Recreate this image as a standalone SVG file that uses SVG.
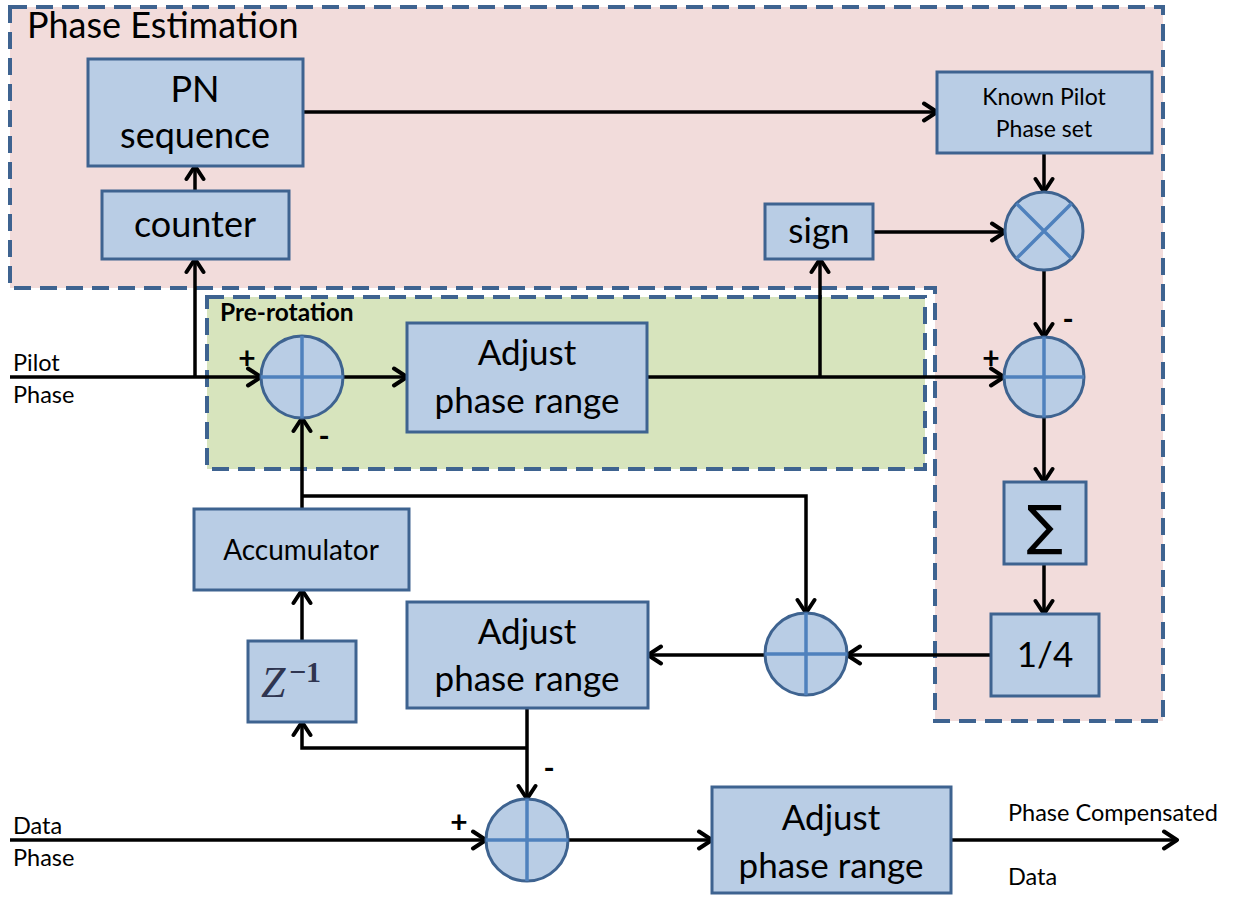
<svg xmlns="http://www.w3.org/2000/svg" width="1239" height="897" viewBox="0 0 1239 897">
  <defs>
    <marker id="arrow" viewBox="0 0 18 22" refX="16" refY="11" markerWidth="18" markerHeight="22" markerUnits="userSpaceOnUse" orient="auto">
      <path d="M3,2.5 L16,11 L3,19.5" fill="none" stroke="#000" stroke-width="4" stroke-linecap="round" stroke-linejoin="round"/>
    </marker>
    <style>
      .region { stroke: #3e6390; stroke-width: 4; stroke-dasharray: 17 9; }
      .box { fill: #b9cde5; stroke: #3e6390; stroke-width: 3; }
      .op { fill: #b9cde5; stroke: #3e6390; stroke-width: 3; }
      .cross { stroke: #4f81bd; stroke-width: 3.5; fill: none; }
      .wire { fill: none; stroke: #000; stroke-width: 3.5; }
      .arr { marker-end: url(#arrow); }
      text { font-family: Lato, "Open Sans", "Liberation Sans", sans-serif; fill: #000; }
      .big { font-size: 35px; text-anchor: middle; }
      .mid { font-size: 28px; text-anchor: middle; }
      .small { font-size: 23px; text-anchor: middle; }
      .lbl { font-size: 23.5px; }
      .sgn { font-size: 30px; font-weight: bold; text-anchor: middle; }
    </style>
  </defs>

  <rect width="1239" height="897" fill="#fff"/>

  <!-- Regions -->
  <g id="phase-estimation">
    <path class="region" d="M10,7 H1163 V721 H935 V288 H10 Z" fill="#f2dcdb"/>
    <text x="27" y="38" style="font-size:36px">Phase Estimation</text>
  </g>
  <g id="pre-rotation">
    <rect class="region" x="207" y="297" width="718" height="172" fill="#d7e4bd"/>
    <text x="220" y="321" style="font-size:24.5px;font-weight:bold">Pre-rotation</text>
  </g>

  <!-- Connectors -->
  <g id="connectors">
    <path class="wire arr" d="M303,112 H937"/>
    <path class="wire arr" d="M195,191 V166"/>
    <path class="wire arr" d="M195,377 V259"/>
    <path class="wire arr" d="M10,377 H261"/>
    <path class="wire arr" d="M343,377 H407"/>
    <path class="wire arr" d="M647,377 H1004"/>
    <path class="wire arr" d="M820,377 V259"/>
    <path class="wire arr" d="M873,232 H1005"/>
    <path class="wire arr" d="M1044,153 V192"/>
    <path class="wire arr" d="M1044,270 V337"/>
    <path class="wire arr" d="M1044,417 V482"/>
    <path class="wire arr" d="M1044,564 V614"/>
    <path class="wire arr" d="M991,655 H847"/>
    <path class="wire arr" d="M765,655 H648"/>
    <path class="wire arr" d="M302,509 V418"/>
    <path class="wire arr" d="M302,496 H806 V613"/>
    <path class="wire arr" d="M527,708 V799"/>
    <path class="wire arr" d="M527,748 H302 V722"/>
    <path class="wire arr" d="M302,641 V590"/>
    <path class="wire arr" d="M10,840 H486"/>
    <path class="wire arr" d="M568,840 H712"/>
    <path class="wire arr" d="M951,840 H1177"/>
  </g>

  <!-- Port labels -->
  <g id="io-labels">
    <text class="lbl" x="13" y="371">Pilot</text>
    <text class="lbl" x="13" y="403">Phase</text>
    <text class="lbl" x="13" y="834">Data</text>
    <text class="lbl" x="13" y="866">Phase</text>
    <text class="lbl" x="1008" y="821">Phase Compensated</text>
    <text class="lbl" x="1008" y="885">Data</text>
  </g>

  <!-- Blocks -->
  <g id="pn-sequence">
    <rect class="box" x="88" y="59" width="215" height="107"/>
    <text class="big" x="195" y="102" style="font-size:36px">PN</text>
    <text class="big" x="195" y="148" style="font-size:36px">sequence</text>
  </g>
  <g id="counter">
    <rect class="box" x="102" y="191" width="187" height="68"/>
    <text class="big" x="195" y="237" style="font-size:36px">counter</text>
  </g>
  <g id="known-pilot">
    <rect class="box" x="937" y="72" width="215" height="81"/>
    <text class="small" x="1044" y="105">Known Pilot</text>
    <text class="small" x="1044" y="137">Phase set</text>
  </g>
  <g id="sign">
    <rect class="box" x="765" y="204" width="108" height="55"/>
    <text class="big" x="819" y="243">sign</text>
  </g>
  <g id="multiplier">
    <circle class="op" cx="1044" cy="231" r="39"/>
    <path class="cross" d="M1016.4,203.4 L1071.6,258.6 M1071.6,203.4 L1016.4,258.6"/>
  </g>
  <g id="adder-pre">
    <circle class="op" cx="302" cy="377" r="41"/>
    <path class="cross" d="M261,377 H343 M302,336 V418"/>
    <text class="sgn" x="247" y="369">+</text>
    <text class="sgn" x="324" y="447">-</text>
  </g>
  <g id="adjust-pre">
    <rect class="box" x="407" y="323" width="240" height="109"/>
    <text class="big" x="527" y="365">Adjust</text>
    <text class="big" x="527" y="413">phase range</text>
  </g>
  <g id="adder-err">
    <circle class="op" cx="1044" cy="377" r="40"/>
    <path class="cross" d="M1004,377 H1084 M1044,337 V417"/>
    <text class="sgn" x="991" y="369">+</text>
    <text class="sgn" x="1068" y="330">-</text>
  </g>
  <g id="sum">
    <rect class="box" x="1004" y="482" width="82" height="82"/>
    <text x="1045" y="544" style="font-size:54px;text-anchor:middle;font-family:'DejaVu Sans',sans-serif">∑</text>
  </g>
  <g id="quarter">
    <rect class="box" x="991" y="614" width="108" height="82"/>
    <text class="big" x="1045" y="667">1/4</text>
  </g>
  <g id="adder-loop">
    <circle class="op" cx="806" cy="654" r="41"/>
    <path class="cross" d="M765,654 H847 M806,613 V695"/>
  </g>
  <g id="adjust-loop">
    <rect class="box" x="407" y="602" width="241" height="106"/>
    <text class="big" x="527" y="644">Adjust</text>
    <text class="big" x="527" y="691">phase range</text>
  </g>
  <g id="accumulator">
    <rect class="box" x="194" y="509" width="215" height="81"/>
    <text class="mid" x="301" y="560">Accumulator</text>
  </g>
  <g id="delay">
    <rect class="box" x="248" y="641" width="108" height="81"/>
    <text x="261" y="697" style="font-family:'Liberation Serif',serif;font-style:italic;font-size:44px;fill:#2f3550">Z</text>
    <text x="289" y="682" style="font-family:'Liberation Serif',serif;font-weight:bold;font-size:30px;fill:#2f3550">−1</text>
  </g>
  <g id="adder-data">
    <circle class="op" cx="527" cy="840" r="41"/>
    <path class="cross" d="M486,840 H568 M527,799 V881"/>
    <text class="sgn" x="459" y="833">+</text>
    <text class="sgn" x="549" y="779">-</text>
  </g>
  <g id="adjust-out">
    <rect class="box" x="712" y="787" width="239" height="106"/>
    <text class="big" x="831" y="830">Adjust</text>
    <text class="big" x="831" y="878">phase range</text>
  </g>
</svg>
